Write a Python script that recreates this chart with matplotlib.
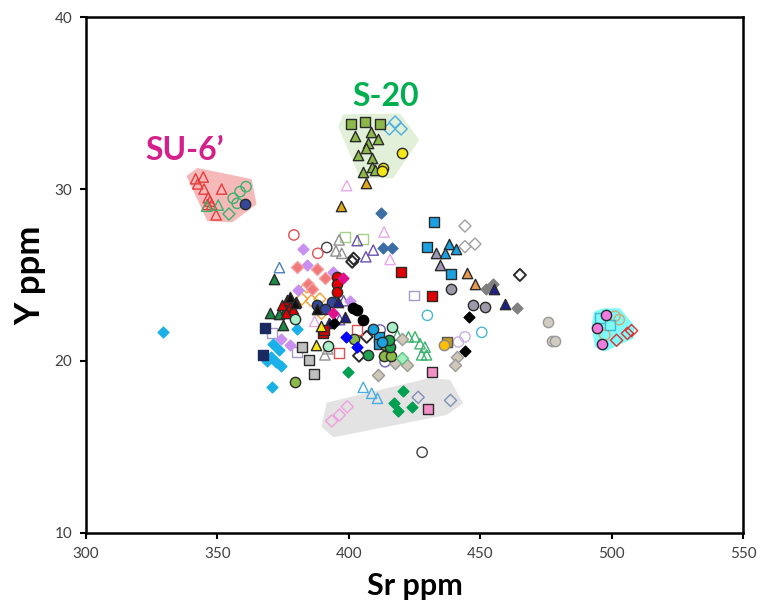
import matplotlib
matplotlib.use("Agg")
import matplotlib.pyplot as plt
from matplotlib.patches import Polygon

plt.rcParams['font.family'] = ['Lato', 'DejaVu Sans']

# ---- shaded group outlines (Sr, Y) ----
su6_poly_sr = [338.2, 342.4, 363.0, 364.9, 355.7, 346.2]
su6_poly_y = [30.76, 31.23, 30.58, 29.12, 28.07, 28.13]
s20_poly_sr = [397.9, 419.5, 426.8, 416.9, 404.3, 396.0]
s20_poly_y = [34.35, 34.4, 32.86, 30.63, 30.63, 33.63]
gray_poly_sr = [391.6, 430.3, 438.5, 443.5, 437.2, 394.1, 389.6]
gray_poly_y = [17.57, 18.99, 18.9, 17.53, 16.85, 15.55, 16.17]
cyan_poly_sr = [493.3, 496.8, 503.2, 508.9, 508.2, 497.4, 493.6, 492.4]
cyan_poly_y = [22.86, 23.06, 23.06, 22.0, 21.3, 20.54, 20.83, 22.0]

# ---- samples (Sr ppm, Y ppm) ----
red_otri_sr = [341.7, 344.6, 342.5, 344.9, 351.6, 346.5, 347.2, 346.2, 347.8, 349.5]
red_otri_y = [30.6, 30.7, 30.3, 30.0, 30.0, 29.5, 29.3, 29.1, 29.1, 28.5]
grn_otri_sr = [345.9, 350.3, 422.7, 425.2, 427.1, 429.0, 427.7, 429.6, 418.5]
grn_otri_y = [29.0, 29.07, 21.4, 21.4, 21.0, 20.8, 20.35, 20.35, 21.5]
grn_ocirc_sr = [360.9, 358.6, 356.0, 357.5]
grn_ocirc_y = [30.14, 29.85, 29.46, 29.17]
grn_odia_sr = [354.4]
grn_odia_y = [28.55]
navy_circ_sr = [360.5, 387.8, 393.5, 391.0]
navy_circ_y = [29.13, 23.25, 23.45, 23.0]
olive_sq_sr = [400.8, 406.2, 411.9]
olive_sq_y = [33.8, 33.9, 33.8]
lblue_odia_sr = [415.4, 417.6, 419.9]
lblue_odia_y = [33.5, 33.9, 33.5]
olive_tri_sr = [402.4, 408.3, 411.2, 407.4, 406.5, 403.4, 408.7, 408.9, 405.5, 410.0]
olive_tri_y = [33.1, 33.3, 32.9, 32.7, 32.4, 32.0, 31.8, 31.3, 31.0, 31.1]
yel_circ_sr = [420.1, 413.1, 412.5]
yel_circ_y = [32.1, 31.25, 31.05]
ochre_tri_sr = [406.5, 396.9]
ochre_tri_y = [30.35, 29.0]
pink_otri_sr = [399.2, 413.4, 415.7, 387.0]
pink_otri_y = [30.2, 27.5, 25.9, 22.3]
steel_dia_sr = [412.2, 413.1, 416.3]
steel_dia_y = [28.6, 26.55, 26.55]
blue_sq_sr = [432.6, 429.6, 439.0, 411.6, 411.6]
blue_sq_y = [28.07, 26.6, 25.06, 21.4, 21.0]
gray_odia_sr = [444.2, 444.2, 448.0]
gray_odia_y = [27.85, 26.65, 26.8]
lilac_tri_sr = [433.2, 434.7]
lilac_tri_y = [26.3, 25.6]
blue_tri_sr = [438.3, 436.6, 440.8]
blue_tri_y = [26.8, 26.3, 26.5]
orange_tri_sr = [444.8, 448.0]
orange_tri_y = [25.1, 24.5]
gray_dia_sr = [452.2, 455.0, 463.9]
gray_dia_y = [24.2, 24.5, 23.1]
navy_tri_sr = [455.3, 459.6, 398.6, 396.0, 392.5]
navy_tri_y = [24.2, 23.3, 22.57, 23.4, 22.2]
gray_circ_sr = [438.9, 447.1, 451.7]
gray_circ_y = [24.2, 23.25, 23.15]
blk_odia_sr = [465.1, 401.3, 401.8, 403.9, 406.8]
blk_odia_y = [25.0, 25.77, 25.95, 20.3, 21.4]
red_sq_sr = [419.7, 431.5, 390.0, 390.5]
red_sq_y = [25.2, 23.8, 21.6, 21.8]
lilac_osq_sr = [424.9, 370.7, 380.4]
lilac_osq_y = [23.8, 21.6, 20.53]
cyan_ocirc_sr = [429.9, 450.6]
cyan_ocirc_y = [22.65, 21.66]
blk_dia_sr = [445.7, 444.2, 394.4]
blk_dia_y = [22.54, 20.6, 22.19]
ochre_sq_sr = [437.2]
ochre_sq_y = [21.1]
gold_circ_sr = [436.4]
gold_circ_y = [20.95]
lilac_ocirc_sr = [441.7, 444.2]
lilac_ocirc_y = [21.1, 21.4]
beige_dia_sr = [441.0, 440.4, 411.2, 420.1, 422.0, 417.6]
beige_dia_y = [20.2, 19.76, 19.18, 21.3, 19.76, 19.86]
pink_sq_sr = [431.5, 430.3]
pink_sq_y = [19.37, 17.2]
pink_odia_sr = [393.5, 396.4, 399.4]
pink_odia_y = [16.5, 16.85, 17.33]
lblue_otri_sr = [405.5, 408.7, 410.9]
lblue_otri_y = [18.46, 18.11, 17.82]
grn_dia_sr = [399.8, 420.7, 417.3, 418.8, 423.9]
grn_dia_y = [19.37, 18.27, 17.57, 17.08, 17.33]
slate_odia_sr = [426.4, 438.7]
slate_odia_y = [17.88, 17.7]
blk_ocirc_sr = [427.9, 391.6]
blk_ocirc_y = [14.68, 26.6]
gray_sq_sr = [382.1, 384.9, 386.8]
gray_sq_y = [20.83, 20.05, 19.22]
pink_circ_sr = [497.9, 494.6, 496.2]
pink_circ_y = [22.67, 21.9, 20.98]
tan_ocirc_sr = [501.3, 502.9, 497.4]
tan_ocirc_y = [22.6, 22.4, 21.5]
cyan_osq_sr = [495.6, 499.4]
cyan_osq_y = [22.5, 22.1]
red_odia_sr = [501.9, 506.0, 507.6]
red_odia_y = [21.2, 21.6, 21.76]
beige_circ_sr = [475.9, 477.2, 478.5]
beige_circ_y = [22.28, 21.18, 21.18]
cyan_dia_sr = [329.3, 371.3, 373.6, 370.3, 372.3, 374.1, 380.4, 370.8, 369.0]
cyan_dia_y = [21.7, 21.0, 20.63, 20.24, 19.95, 19.72, 21.84, 18.5, 20.0]
red_ocirc_sr = [379.1, 388.2]
red_ocirc_y = [27.33, 26.26]
lgrn_osq_sr = [398.6, 405.3]
lgrn_osq_y = [27.2, 27.08]
gray_otri_sr = [396.3, 395.1, 397.3, 390.9, 392.0]
gray_otri_y = [27.04, 26.4, 26.26, 20.35, 20.7]
purp_otri_sr = [403.2, 409.3, 406.5, 398.0, 396.5]
purp_otri_y = [27.0, 26.45, 26.06, 23.5, 22.4]
lilac_dia_sr = [382.4, 383.9, 380.8, 400.5, 377.6, 374.1, 394.1]
lilac_dia_y = [26.5, 25.6, 24.1, 23.5, 20.9, 21.3, 25.2]
salmon_dia_sr = [380.4, 387.8, 384.6, 390.9, 386.0]
salmon_dia_y = [25.45, 25.33, 24.5, 24.8, 24.2]
blue_otri_sr = [373.6]
blue_otri_y = [25.43]
dgrn_tri_sr = [371.7, 370.0, 373.6, 374.9, 376.0]
dgrn_tri_y = [24.75, 22.77, 22.7, 22.1, 23.0]
red_circ_sr = [395.4, 395.4, 395.4]
red_circ_y = [24.9, 24.5, 24.0]
red_tri_sr = [376.4, 377.6, 374.5, 378.9, 380.0, 376.0]
red_tri_y = [23.55, 23.15, 23.25, 23.0, 23.4, 22.8]
blk_tri_sr = [377.6, 379.5, 388.0]
blk_tri_y = [23.7, 23.35, 23.0]
orange_odia_sr = [382.1, 385.8, 389.0, 389.6, 384.0]
orange_odia_y = [23.6, 23.5, 23.6, 22.77, 24.3]
mag_dia_sr = [394.1, 397.9]
mag_dia_y = [22.77, 24.8]
blk_circ_sr = [401.7, 403.0, 405.3]
blk_circ_y = [23.06, 22.97, 22.4]
yel_tri_sr = [387.5, 389.6]
yel_tri_y = [20.9, 22.03]
red_osq_sr = [396.4, 403.2]
red_osq_y = [20.44, 21.8]
navy_sq_sr = [368.1, 367.2]
navy_sq_y = [21.9, 20.35]
mint_circ_sr = [379.5, 392.2, 416.3]
mint_circ_y = [22.44, 20.89, 21.96]
olive_circ_sr = [379.5, 402.0, 413.8, 413.4, 416.0]
olive_circ_y = [18.75, 21.27, 20.9, 20.28, 20.3]
grn_circ_sr = [407.4, 415.7, 415.3]
grn_circ_y = [20.35, 20.83, 21.2]
blue_circ_sr = [409.3, 412.5]
blue_circ_y = [21.85, 21.12]
bblue_dia_sr = [398.9, 403.2]
bblue_dia_y = [21.4, 20.8]
purp_ocirc_sr = [411.9, 413.8]
purp_ocirc_y = [21.8, 19.95]
mint_dia_sr = [420.1]
mint_dia_y = [20.15]

fig = plt.figure(figsize=(7.6, 6.06), dpi=100)
ax = fig.add_axes([0.1132, 0.121, 0.8644, 0.8505])

for psr, py, col in [(su6_poly_sr, su6_poly_y, '#f4b9b8'),
                     (s20_poly_sr, s20_poly_y, '#e2efd9'),
                     (gray_poly_sr, gray_poly_y, '#e3e3e3'),
                     (cyan_poly_sr, cyan_poly_y, '#7ff9f9')]:
    ax.add_patch(Polygon(list(zip(psr, py)), closed=True, facecolor=col,
                         edgecolor='none', zorder=1))


def pts(sr, y, m, face, edge, s=55, lw=1.0):
    ax.scatter(sr, y, marker=m, s=s, facecolors=face, edgecolors=edge,
               linewidths=lw, zorder=3)


K = '#2a2a2a'
# open symbols
pts(red_otri_sr, red_otri_y, '^', 'none', '#e63c3c')
pts(grn_otri_sr, grn_otri_y, '^', 'none', '#3cb36e')
pts(grn_ocirc_sr, grn_ocirc_y, 'o', 'none', '#3cb36e')
pts(grn_odia_sr, grn_odia_y, 'D', 'none', '#3cb36e', s=38)
pts(lblue_odia_sr, lblue_odia_y, 'D', 'none', '#4aaee0', s=38)
pts(pink_otri_sr, pink_otri_y, '^', 'none', '#eaa8ea')
pts(gray_odia_sr, gray_odia_y, 'D', 'none', '#a0a0a0', s=38)
pts(blk_odia_sr, blk_odia_y, 'D', 'none', K, s=38, lw=1.4)
pts(lilac_osq_sr, lilac_osq_y, 's', 'none', '#a89ac8', s=50)
pts(cyan_ocirc_sr, cyan_ocirc_y, 'o', 'none', '#4ab8d0')
pts(lilac_ocirc_sr, lilac_ocirc_y, 'o', 'none', '#c8b0e0')
pts(pink_odia_sr, pink_odia_y, 'D', 'none', '#f0a0e0', s=38)
pts(lblue_otri_sr, lblue_otri_y, '^', 'none', '#4aaee0')
pts(slate_odia_sr, slate_odia_y, 'D', 'none', '#8090b8', s=38)
pts(blk_ocirc_sr, blk_ocirc_y, 'o', 'none', '#404040')
pts(tan_ocirc_sr, tan_ocirc_y, 'o', 'none', '#d4a870')
pts(cyan_osq_sr, cyan_osq_y, 's', 'none', '#40b8d0', s=50)
pts(red_odia_sr, red_odia_y, 'D', 'none', '#e03030', s=38)
pts(red_ocirc_sr, red_ocirc_y, 'o', 'none', '#e05050')
pts(lgrn_osq_sr, lgrn_osq_y, 's', 'none', '#a8d08d', s=50)
pts(gray_otri_sr, gray_otri_y, '^', 'none', '#909090')
pts(purp_otri_sr, purp_otri_y, '^', 'none', '#6a50b0')
pts(blue_otri_sr, blue_otri_y, '^', 'none', '#5080c0')
pts(orange_odia_sr, orange_odia_y, 'D', 'none', '#f0a030', s=38)
pts(red_osq_sr, red_osq_y, 's', 'none', '#e05050', s=50)
pts(purp_ocirc_sr, purp_ocirc_y, 'o', 'none', '#7060c0')

# filled symbols
pts(navy_circ_sr, navy_circ_y, 'o', '#34479a', K)
pts(olive_sq_sr, olive_sq_y, 's', '#8db84a', K, s=50)
pts(olive_tri_sr, olive_tri_y, '^', '#8db84a', K)
pts(yel_circ_sr, yel_circ_y, 'o', '#f5e614', K)
pts(ochre_tri_sr, ochre_tri_y, '^', '#e0a81c', K)
pts(steel_dia_sr, steel_dia_y, 'D', '#3a6ea5', '#3a6ea5', s=30)
pts(blue_sq_sr, blue_sq_y, 's', '#1ba1e2', K, s=50)
pts(lilac_tri_sr, lilac_tri_y, '^', '#9e97b5', K)
pts(blue_tri_sr, blue_tri_y, '^', '#1ba1e2', K)
pts(orange_tri_sr, orange_tri_y, '^', '#e89a50', K)
pts(gray_dia_sr, gray_dia_y, 'D', '#808080', '#808080', s=30)
pts(navy_tri_sr, navy_tri_y, '^', '#1f1f8a', K)
pts(gray_circ_sr, gray_circ_y, 'o', '#9e9aaa', K)
pts(red_sq_sr, red_sq_y, 's', '#e00000', K, s=50)
pts(blk_dia_sr, blk_dia_y, 'D', '#000000', '#000000', s=30)
pts(ochre_sq_sr, ochre_sq_y, 's', '#c8a020', '#555555', s=50)
pts(gold_circ_sr, gold_circ_y, 'o', '#ffc000', '#888888')
pts(beige_dia_sr, beige_dia_y, 'D', '#cfc8b8', '#999999', s=38)
pts(pink_sq_sr, pink_sq_y, 's', '#f490c8', K, s=50)
pts(grn_dia_sr, grn_dia_y, 'D', '#00a050', '#00a050', s=30)
pts(gray_sq_sr, gray_sq_y, 's', '#c0c0c0', K, s=50)
pts(pink_circ_sr, pink_circ_y, 'o', '#f07ce0', K)
pts(beige_circ_sr, beige_circ_y, 'o', '#d0ccc0', '#999999')
pts(cyan_dia_sr, cyan_dia_y, 'D', '#1ab0e8', '#1ab0e8', s=30)
pts(lilac_dia_sr, lilac_dia_y, 'D', '#c890f0', '#c890f0', s=30)
pts(salmon_dia_sr, salmon_dia_y, 'D', '#f07878', '#f5a0a0', s=38)
pts(dgrn_tri_sr, dgrn_tri_y, '^', '#1a8a45', K)
pts(red_circ_sr, red_circ_y, 'o', '#e00000', K)
pts(red_tri_sr, red_tri_y, '^', '#e00000', K)
pts(blk_tri_sr, blk_tri_y, '^', '#111111', K)
pts(mag_dia_sr, mag_dia_y, 'D', '#e0108a', '#e0108a', s=30)
pts(blk_circ_sr, blk_circ_y, 'o', '#000000', '#000000')
pts(yel_tri_sr, yel_tri_y, '^', '#f5e614', K)
pts(navy_sq_sr, navy_sq_y, 's', '#1a2a60', '#1a2a60', s=50)
pts(mint_circ_sr, mint_circ_y, 'o', '#a8f0c8', K)
pts(olive_circ_sr, olive_circ_y, 'o', '#8db84a', K)
pts(grn_circ_sr, grn_circ_y, 'o', '#20a050', K)
pts(blue_circ_sr, blue_circ_y, 'o', '#1ba1e2', K)
pts(bblue_dia_sr, bblue_dia_y, 'D', '#0000ff', '#0000ff', s=30)
pts(mint_dia_sr, mint_dia_y, 'D', '#a0f0c0', '#60c080', s=38)

ax.text(337.5, 32.25, 'SU-6\u2019', color='#d4208a', fontsize=23,
        fontweight='bold', ha='center', va='center')
ax.text(414.0, 35.4, 'S-20', color='#00b050', fontsize=23,
        fontweight='bold', ha='center', va='center')

ax.set_xlim(300, 550)
ax.set_ylim(10, 40)
ax.set_xticks([300, 350, 400, 450, 500, 550])
ax.set_yticks([10, 20, 30, 40])
for sp in ax.spines.values():
    sp.set_linewidth(1.8)
ax.tick_params(direction='out', length=4, width=1.5, labelsize=11,
               labelcolor='#404040', pad=6)
ax.set_xlabel('Sr ppm', fontsize=22, fontweight='bold', labelpad=8)
ax.set_ylabel('Y ppm', fontsize=25, fontweight='bold', labelpad=6)

fig.savefig('out.png', dpi=100)
